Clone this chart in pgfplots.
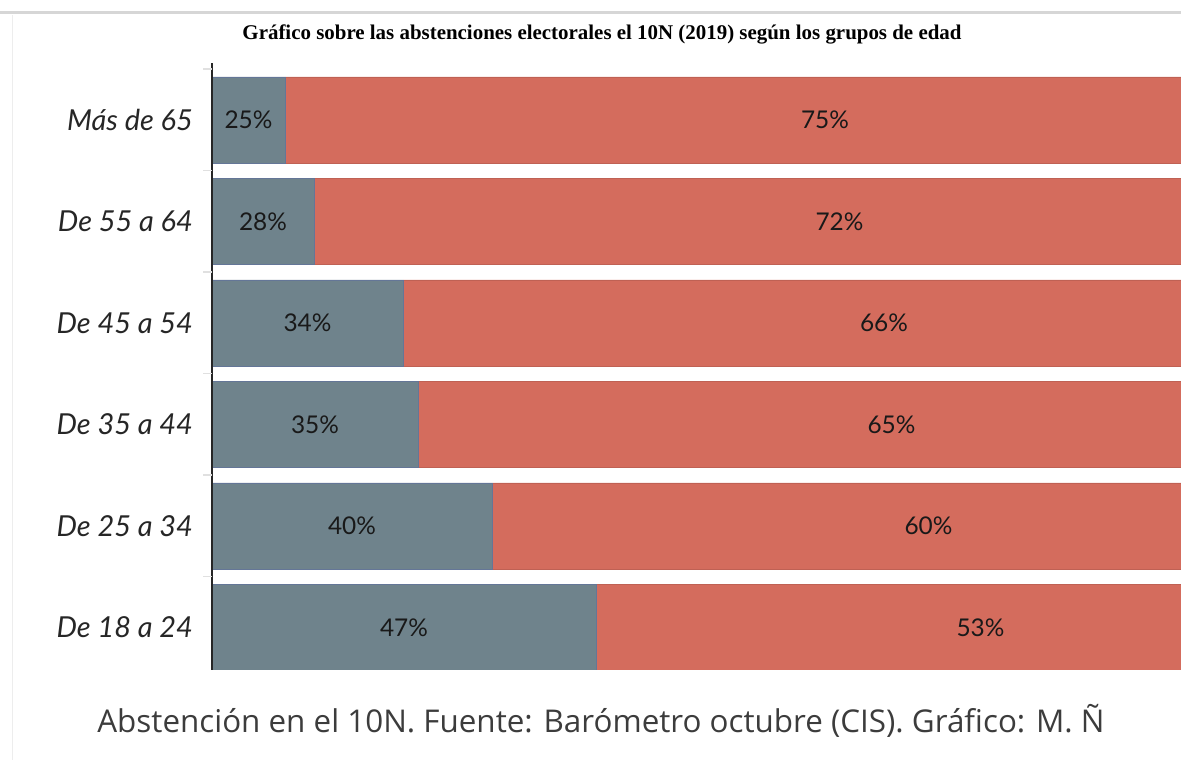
\documentclass[border=0pt]{standalone}
\usepackage{pgfplots}
\pgfplotsset{compat=1.18}
\usepackage{pgfplotstable}
\usepackage{fontspec}
\setmainfont{Lato}
\newfontfamily\capfont{Open Sans}
\newfontfamily\titlefont{Liberation Serif}
\newfontfamily\labfont{Lato}
\definecolor{cgrey}{RGB}{111,131,140}
\definecolor{cred}{RGB}{212,108,93}
\definecolor{capc}{RGB}{60,60,60}

% bar lengths as drawn (px from the axis; the red segment runs past the cropped right edge)
\pgfplotstableread{
pos grey red gmid rmid glab rlab
0 384 769 192 768.5 47 53
1 280 873 140 716.5 40 60
2 206 947 103 679.5 35 65
3 191 962 95.5 672 34 66
4 102 1051 51 627.5 28 72
5 73 1080 36.5 613 25 75
}\datatab

\begin{document}
\begin{tikzpicture}
\path[use as bounding box] (0,0) rectangle (1181bp,760bp);
\draw[line width=3bp, black!16] (0,747bp) -- (1181bp,747bp);
\draw[line width=1bp, black!7] (12bp,0) -- (12bp,745bp);
\node[font=\titlefont\bfseries\fontsize{21}{24}\selectfont, anchor=base] at (602bp,720bp)
  {Gráfico sobre las abstenciones electorales el 10N (2019) según los grupos de edad};
\node[font=\capfont\fontsize{31.5}{36}\selectfont, text=capc, anchor=base] at (601bp,28bp)
  {Abstención en el 10N. Fuente: Barómetro octubre (CIS). Gráfico: M. Ñ};

\begin{axis}[
  at={(212bp,90bp)}, anchor=south west,
  scale only axis, width=969bp, height=607bp,
  xbar stacked, bar width=86bp,
  xmin=0, xmax=969, ymin=-0.42, ymax=5.56,
  hide x axis,
  axis y line*=left,
  axis on top,
  y axis line style={line width=2.5bp, draw=black!85, -},
  ytick={0,1,2,3,4,5},
  yticklabels={De 18 a 24, De 25 a 34, De 35 a 44, De 45 a 54, De 55 a 64, Más de 65},
  yticklabel style={font=\labfont\itshape\fontsize{29}{32}\selectfont, text=black!85, anchor=east, inner sep=0pt, xshift=-19bp},
  major tick length=0pt,
  extra y ticks={0.5,1.5,2.5,3.5,4.5,5.5},
  extra y tick labels={},
  extra y tick style={major tick length=9bp, tick style={draw=black!12, line width=1.5bp}, tick pos=left, tick align=outside},
  clip=true,
]
\addplot[fill=cgrey, draw=cgrey!90!blue, line width=0.5bp] table[x=grey, y=pos] {\datatab};
\addplot[fill=cred, draw=cred!90!black, line width=0.5bp] table[x=red, y=pos] {\datatab};
\end{axis}

\begin{axis}[
  at={(212bp,90bp)}, anchor=south west,
  scale only axis, width=969bp, height=607bp,
  xmin=0, xmax=969, ymin=-0.42, ymax=5.56,
  hide axis, clip=false,
  nodes near coords={\pgfplotspointmeta\%},
  every node near coord/.append style={anchor=center, font=\fontsize{24.5}{28}\selectfont, text=black!90},
]
\addplot[only marks, mark=none, point meta=explicit symbolic] table[x=gmid, y=pos, meta=glab] {\datatab};
\addplot[only marks, mark=none, point meta=explicit symbolic] table[x=rmid, y=pos, meta=rlab] {\datatab};
\end{axis}
\end{tikzpicture}
\end{document}
